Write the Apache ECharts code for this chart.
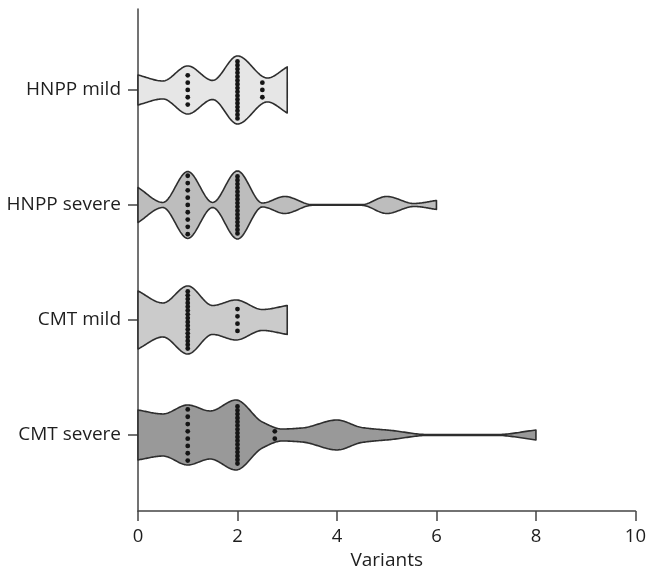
<!DOCTYPE html>
<html>
<head>
<meta charset="utf-8">
<script src="https://cdn.jsdelivr.net/npm/echarts@6/dist/echarts.min.js"></script>
<style>
  html, body { margin: 0; padding: 0; background: #fff; }
  #chart { width: 649px; height: 582px; }
</style>
</head>
<body>
<div id="chart"></div>
<script>
// groups, top to bottom
const categories = ["HNPP mild", "HNPP severe", "CMT mild", "CMT severe"];
const xTicks = [0, 2, 4, 6, 8, 10];

// violin outline: variant count -> half width (in category units)
const hnppMildX = [0, 0.5, 1, 1.5, 2, 2.6, 3];
const hnppMildW = [0.130, 0.078, 0.209, 0.083, 0.296, 0.104, 0.200];
const hnppSevereX = [0, 0.5, 1, 1.5, 2, 2.5, 2.95, 3.5, 4.5, 5, 5.55, 6];
const hnppSevereW = [0.152, 0.022, 0.291, 0.022, 0.296, 0.017, 0.074, 0.003, 0.003, 0.074, 0.013, 0.039];
const cmtMildX = [0, 0.5, 1, 1.5, 1.97, 2.5, 3];
const cmtMildW = [0.252, 0.148, 0.296, 0.126, 0.174, 0.091, 0.126];
const cmtSevereX = [0, 0.5, 1, 1.45, 1.97, 2.5, 2.9, 3.3, 4, 4.5, 5.1, 5.85, 7.2, 8];
const cmtSevereW = [0.217, 0.183, 0.261, 0.209, 0.304, 0.113, 0.052, 0.061, 0.130, 0.065, 0.039, 0.003, 0.003, 0.043];

// dots: value and number of dots stacked at it
const hnppMildDots = [1, 2, 2.5];
const hnppMildCounts = [5, 16, 3];
const hnppSevereDots = [1, 2];
const hnppSevereCounts = [9, 16];
const cmtMildDots = [1, 2];
const cmtMildCounts = [16, 4];
const cmtSevereDots = [1, 2, 2.75];
const cmtSevereCounts = [8, 16, 2];

const profiles = [
  [hnppMildX, hnppMildW],
  [hnppSevereX, hnppSevereW],
  [cmtMildX, cmtMildW],
  [cmtSevereX, cmtSevereW]
];
const dotSets = [
  [hnppMildDots, hnppMildCounts],
  [hnppSevereDots, hnppSevereCounts],
  [cmtMildDots, cmtMildCounts],
  [cmtSevereDots, cmtSevereCounts]
];
const fills = ["#e6e6e6", "#bdbdbd", "#cbcbcb", "#999999"];
const textColor = "#1e1e1e";
const font = "Open Sans";

// monotone cubic sampling of the outline, only for drawing a smooth edge
function smoothProfile(xs, ys, steps) {
  const n = xs.length;
  const d = [], m = [];
  for (let i = 0; i < n - 1; i++) d.push((ys[i + 1] - ys[i]) / (xs[i + 1] - xs[i]));
  m[0] = d[0];
  m[n - 1] = d[n - 2];
  for (let i = 1; i < n - 1; i++) {
    if (d[i - 1] * d[i] <= 0) { m[i] = 0; continue; }
    const h0 = xs[i] - xs[i - 1], h1 = xs[i + 1] - xs[i];
    m[i] = 3 * (h0 + h1) / ((2 * h1 + h0) / d[i - 1] + (h1 + 2 * h0) / d[i]);
  }
  const out = [];
  for (let i = 0; i < n - 1; i++) {
    const h = xs[i + 1] - xs[i];
    for (let s = 0; s < steps; s++) {
      const t = s / steps, t2 = t * t, t3 = t2 * t;
      const y = (2 * t3 - 3 * t2 + 1) * ys[i] + (t3 - 2 * t2 + t) * h * m[i] +
        (-2 * t3 + 3 * t2) * ys[i + 1] + (t3 - t2) * h * m[i + 1];
      out.push([xs[i] + t * h, Math.max(y, 0.002)]);
    }
  }
  out.push([xs[n - 1], ys[n - 1]]);
  return out;
}

const chart = echarts.init(document.getElementById("chart"));

const violinSeries = {
  type: "custom",
  data: categories.map((c, i) => [0, i]),
  encode: { x: 0, y: 1 },
  silent: true,
  z: 2,
  renderItem: (params, api) => {
    const i = params.dataIndex;
    const pts = smoothProfile(profiles[i][0], profiles[i][1], 24);
    const top = pts.map((p) => api.coord([p[0], i - p[1]]));
    const bottom = pts.slice().reverse().map((p) => api.coord([p[0], i + p[1]]));
    return {
      type: "polygon",
      shape: { points: top.concat(bottom) },
      style: { fill: fills[i], stroke: "#2e2e2e", lineWidth: 1.6, lineJoin: "round" }
    };
  }
};

const dotData = [];
dotSets.forEach((set, i) => {
  set[0].forEach((v, k) => dotData.push([v, i, set[1][k]]));
});

const dotSeries = {
  type: "custom",
  data: dotData,
  encode: { x: 0, y: 1 },
  silent: true,
  z: 3,
  renderItem: (params, api) => {
    const c = api.coord([api.value(0), api.value(1)]);
    const n = api.value(2);
    const gap = n > 10 ? 3.8 : 7.3;
    const children = [];
    for (let k = 0; k < n; k++) {
      children.push({
        type: "circle",
        shape: { cx: c[0], cy: c[1] + (k - (n - 1) / 2) * gap, r: 2.4 },
        style: { fill: "#151515" }
      });
    }
    return { type: "group", children };
  }
};

chart.setOption({
  animation: false,
  grid: { left: 138, right: 13, top: 9, bottom: 71 },
  xAxis: {
    type: "value",
    min: 0,
    max: 10,
    interval: 2,
    name: "Variants",
    nameLocation: "middle",
    nameGap: 39,
    nameTextStyle: { color: textColor, fontSize: 19, fontFamily: font },
    axisLine: { onZero: false, lineStyle: { color: "#444", width: 1.5 } },
    axisTick: { length: 10, lineStyle: { color: "#444", width: 1.5 } },
    axisLabel: {
      color: textColor, fontSize: 18.5, fontFamily: font, margin: 16,
      formatter: (v) => (xTicks.includes(v) ? String(v) : "")
    },
    splitLine: { show: false }
  },
  yAxis: {
    type: "value",
    inverse: true,
    min: -0.704,
    max: 3.661,
    axisLine: { show: true, onZero: false, lineStyle: { color: "#444", width: 1.5 } },
    axisTick: { show: true, length: 10, customValues: [0, 1, 2, 3], lineStyle: { color: "#444", width: 1.5 } },
    axisLabel: {
      color: textColor, fontSize: 19, fontFamily: font, margin: 17,
      customValues: [0, 1, 2, 3],
      formatter: (v) => categories[Math.round(v)]
    },
    splitLine: { show: false }
  },
  series: [violinSeries, dotSeries]
});
</script>
</body>
</html>
